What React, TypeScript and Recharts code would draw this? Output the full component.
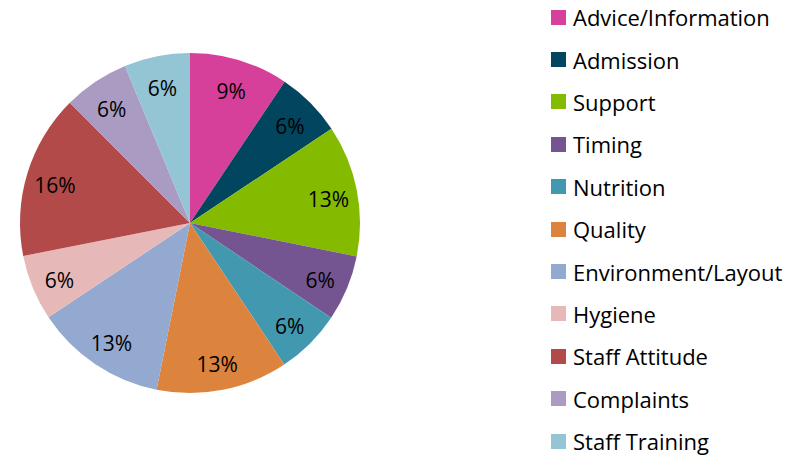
import { Cell, Pie, PieChart } from 'recharts'

const categories = [
  'Advice/Information',
  'Admission',
  'Support',
  'Timing',
  'Nutrition',
  'Quality',
  'Environment/Layout',
  'Hygiene',
  'Staff Attitude',
  'Complaints',
  'Staff Training',
]
// shares in % (labels show them rounded)
const shares = [9.4, 6.25, 12.5, 6.25, 6.25, 12.5, 12.5, 6.25, 15.6, 6.25, 6.25]
const colors = [
  '#D6409A',
  '#01455F',
  '#84BB00',
  '#745592',
  '#4298AF',
  '#DC843D',
  '#93A9D0',
  '#E6B9B8',
  '#B14A48',
  '#A99BC2',
  '#93C5D5',
]

const data = categories.map((name, i) => ({ name, value: shares[i] }))

const FONT = '"Open Sans", Lato, sans-serif'
const RAD = Math.PI / 180

// percent labels sit at ~0.83 of the radius, nudged down a touch like the original
function renderLabel(props: any) {
  const { cx, cy, midAngle, outerRadius, percent } = props
  const r = outerRadius * 0.83
  const x = cx + r * Math.cos(-midAngle * RAD)
  const y = cy + r * Math.sin(-midAngle * RAD) + 3
  return (
    <text
      x={x}
      y={y}
      textAnchor="middle"
      dominantBaseline="central"
      fill="#000"
      fontSize={21}
      fontFamily={FONT}
    >
      {`${Math.round(percent * 100)}%`}
    </text>
  )
}

function LegendList() {
  return (
    <div
      style={{
        position: 'absolute',
        left: 551,
        top: -4,
        fontFamily: FONT,
        fontSize: 22,
        color: '#000',
      }}
    >
      {categories.map((name, i) => (
        <div
          key={name}
          style={{ display: 'flex', alignItems: 'center', height: 42.4, whiteSpace: 'nowrap' }}
        >
          <span
            style={{
              width: 15,
              height: 15,
              background: colors[i],
              marginRight: 7,
              display: 'inline-block',
              flex: 'none',
            }}
          />
          <span>{name}</span>
        </div>
      ))}
    </div>
  )
}

export default function App() {
  return (
    <div style={{ position: 'absolute', top: 0, left: 0, width: 801, height: 459, background: '#fff' }}>
      <PieChart width={801} height={459} margin={{ top: 0, right: 0, bottom: 0, left: 0 }}>
        <Pie
          data={data}
          dataKey="value"
          nameKey="name"
          cx={190}
          cy={223}
          outerRadius={170}
          startAngle={90}
          endAngle={-270}
          stroke="none"
          label={renderLabel}
          labelLine={false}
          isAnimationActive={false}
        >
          {data.map((d, i) => (
            <Cell key={d.name} fill={colors[i]} />
          ))}
        </Pie>
      </PieChart>
      <LegendList />
    </div>
  )
}
